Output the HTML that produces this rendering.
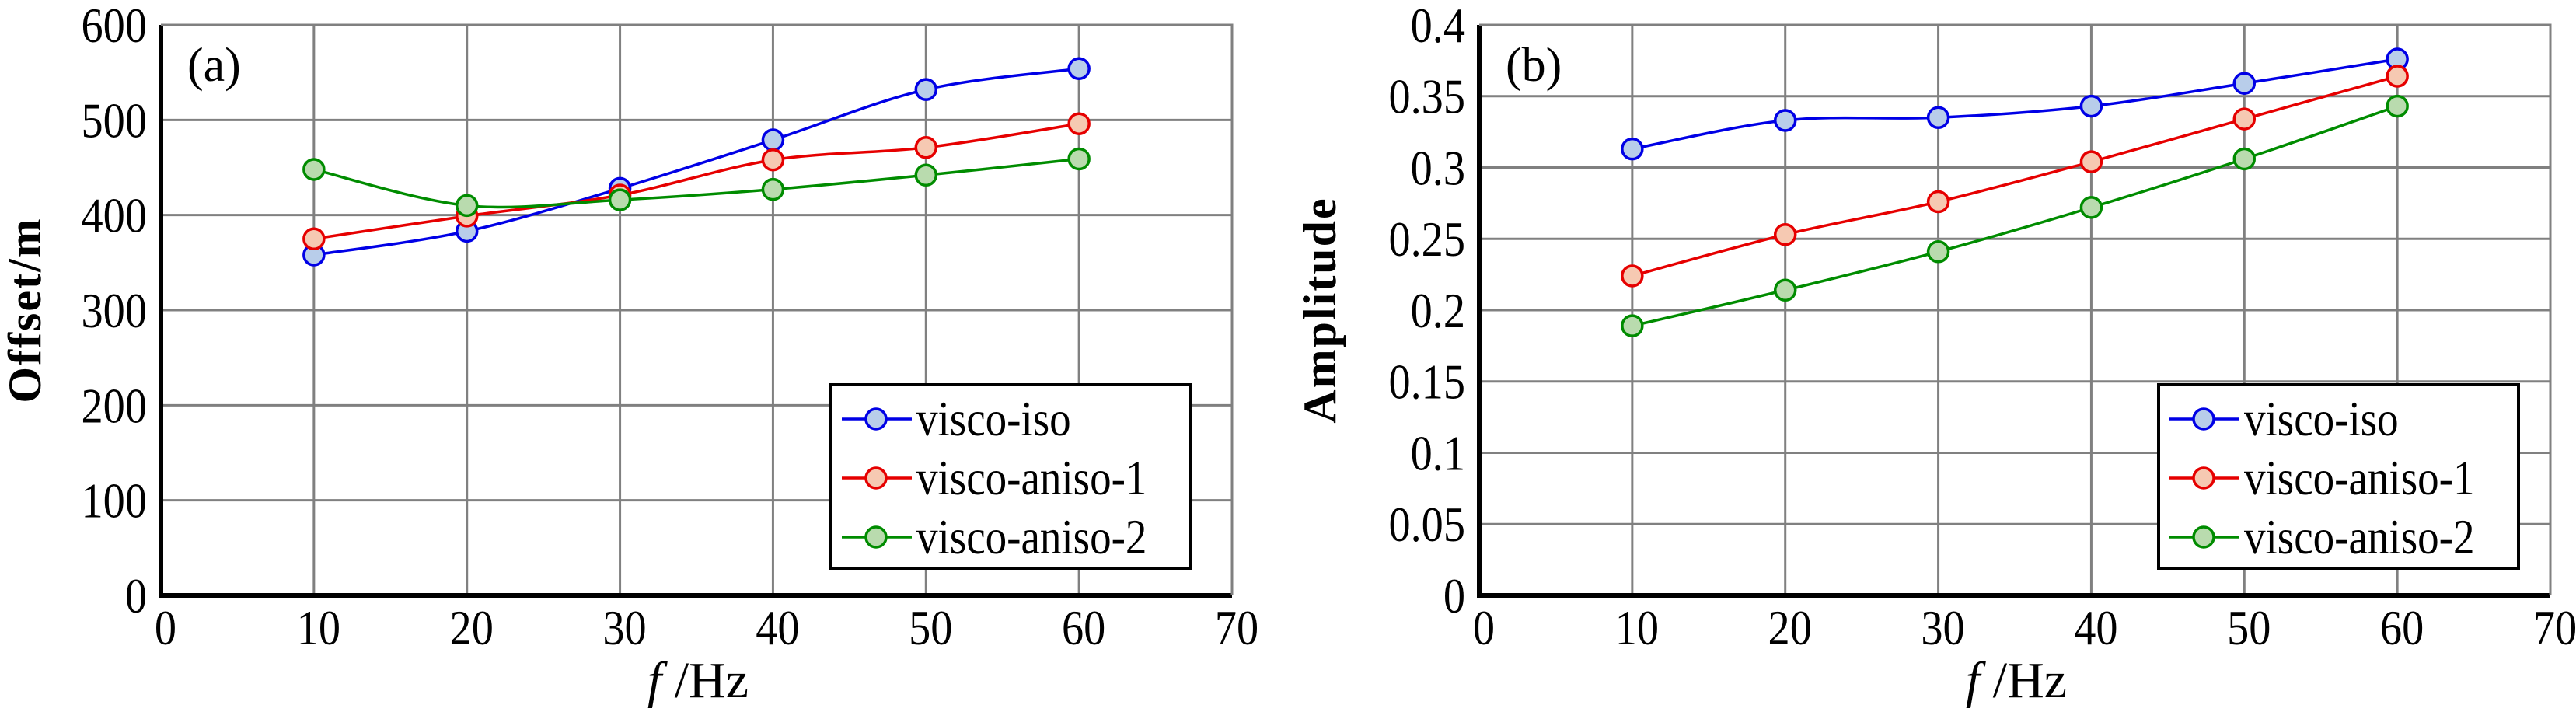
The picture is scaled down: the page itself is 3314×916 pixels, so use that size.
<!DOCTYPE html>
<html><head><meta charset="utf-8"><style>
html,body{margin:0;padding:0;background:#fff;}
svg, svg text{font-family:"Liberation Serif","DejaVu Serif",serif;}
</style></head><body>
<svg id="svg" width="3314" height="911" viewBox="0 0 3314 911" xmlns="http://www.w3.org/2000/svg"></svg>
<script>
const freqs=[10,20,30,40,50,60];
const seriesNames=["visco-iso","visco-aniso-1","visco-aniso-2"];
const offsetIso=[358,383,428,479,532,554];
const offsetAniso1=[375,399,421,458,471,496];
const offsetAniso2=[448,410,416,427,442,459];
const ampIso=[0.313,0.333,0.335,0.343,0.359,0.376];
const ampAniso1=[0.224,0.253,0.276,0.304,0.334,0.364];
const ampAniso2=[0.189,0.214,0.241,0.272,0.306,0.343];
const xTicks=[0,10,20,30,40,50,60,70];
const yTicksA=[0,100,200,300,400,500,600];
const yTicksB=[0,0.05,0.1,0.15,0.2,0.25,0.3,0.35,0.4];
const yLabelsB=["0","0.05","0.1","0.15","0.2","0.25","0.3","0.35","0.4"];

const NS="http://www.w3.org/2000/svg";
const svg=document.getElementById('svg');
const FF='Liberation Serif, DejaVu Serif, serif';
const lineCols=["#0000e6","#e60000","#008c00"];
const fillCols=["#b8cdea","#f6c9b2","#b9dbae"];
function mk(t,attrs,parent){const e=document.createElementNS(NS,t);for(const k in attrs)e.setAttribute(k,attrs[k]);if(t==='text')e.setAttribute('font-family',FF);(parent||svg).appendChild(e);return e;}
function smooth(pts){let d="M"+pts[0][0]+","+pts[0][1];for(let i=0;i<pts.length-1;i++){const p0=pts[i-1]||pts[i],p1=pts[i],p2=pts[i+1],p3=pts[i+2]||p2;const t=0.25;const c1=[p1[0]+(p2[0]-p0[0])*t/1.5,p1[1]+(p2[1]-p0[1])*t/1.5];const c2=[p2[0]-(p3[0]-p1[0])*t/1.5,p2[1]-(p3[1]-p1[1])*t/1.5];d+=" C"+c1[0]+","+c1[1]+" "+c2[0]+","+c2[1]+" "+p2[0]+","+p2[1];}return d;}

function chart(cfg){
  const g=mk('g',{});
  
  
  const L=cfg.left,R=cfg.left+1378,T=32,B=766;
  const xs=v=>L+(v-0)/70*(R-L);
  const ys=v=>B-(v-cfg.ymin)/(cfg.ymax-cfg.ymin)*(B-T);
  cfg.yTicks.forEach((v,i)=>{
    if(i>0){const l=mk('line',{x1:L,x2:R,y1:ys(v),y2:ys(v),stroke:'#808080','stroke-width':3},g);
    }
    const t=mk('text',{x:L-18,y:ys(v)+22,'text-anchor':'end','font-size':64,transform:`translate(${L-18},0) scale(0.88,1) translate(${-(L-18)},0)`},g);t.textContent=cfg.yLabels[i];
    
  });
  xTicks.forEach(v=>{
    if(v>0){const l=mk('line',{x1:xs(v),x2:xs(v),y1:T,y2:B,stroke:'#808080','stroke-width':3},g);
    }
    const cx=xs(v)+6;
    const t=mk('text',{x:cx,y:829,'text-anchor':'middle','font-size':64,transform:`translate(${cx},0) scale(0.88,1) translate(${-cx},0)`},g);t.textContent=v;
    
  });
  const ax=mk('path',{d:`M${L},${T} V${B} H${R}`,fill:'none',stroke:'#000','stroke-width':6},g);
  
  const bd=mk('path',{d:`M${L},${T} H${R} V${B}`,fill:'none',stroke:'#808080','stroke-width':3},g);
  
  const pl=mk('text',{x:L+34,y:104,'font-size':62},g);pl.textContent=cfg.panel;
  
  cfg.series.forEach((vals,si)=>{
    const pts=freqs.map((f,i)=>[xs(f),ys(vals[i])]);
    const p=mk('path',{d:smooth(pts),fill:'none',stroke:lineCols[si],'stroke-width':3.5},g);
    
    pts.forEach(q=>{const c=mk('circle',{cx:q[0],cy:q[1],r:13,fill:fillCols[si],stroke:lineCols[si],'stroke-width':3.5},g);
      });
  });
  const yt=mk('text',{transform:`translate(${cfg.ytx},${(T+B)/2}) rotate(-90)`,'text-anchor':'middle','font-size':60,'font-weight':'bold','letter-spacing':2},g);
  yt.textContent=cfg.ytitle;
  const xt=mk('text',{x:(L+R)/2+2,y:897,'text-anchor':'middle','font-size':66},g);
  xt.innerHTML='<tspan font-style="italic">f</tspan> /Hz';
  
  const lx=cfg.legX,ly=495;
  const lg=mk('g',{},g);
  mk('rect',{x:lx,y:ly,width:463,height:236,fill:'#fff',stroke:'#000','stroke-width':4},lg);
  seriesNames.forEach((n,i)=>{
    const y=ly+44+i*76;
    const e=mk('g',{},lg);
    mk('line',{x1:lx+14,x2:lx+104,y1:y,y2:y,stroke:lineCols[i],'stroke-width':3.5},e);
    mk('circle',{cx:lx+58,cy:y,r:13,fill:fillCols[i],stroke:lineCols[i],'stroke-width':3.5},e);
    const tx=lx+110;
    const t=mk('text',{x:tx,y:y+21,'font-size':64,transform:`translate(${tx},0) scale(0.86,1) translate(${-tx},0)`},e);t.textContent=n;
  });
}
chart({name:'chart-offset',left:207,ymin:0,ymax:600,yTicks:yTicksA,yLabels:yTicksA.map(String),panel:'(a)',ytitle:'Offset/m',ytx:52,legX:1069,
  series:[offsetIso,offsetAniso1,offsetAniso2]});
chart({name:'chart-amplitude',left:1903,ymin:0,ymax:0.4,yTicks:yTicksB,yLabels:yLabelsB,panel:'(b)',ytitle:'Amplitude',ytx:1718,legX:2777,
  series:[ampIso,ampAniso1,ampAniso2]});
</script>
</body></html>
